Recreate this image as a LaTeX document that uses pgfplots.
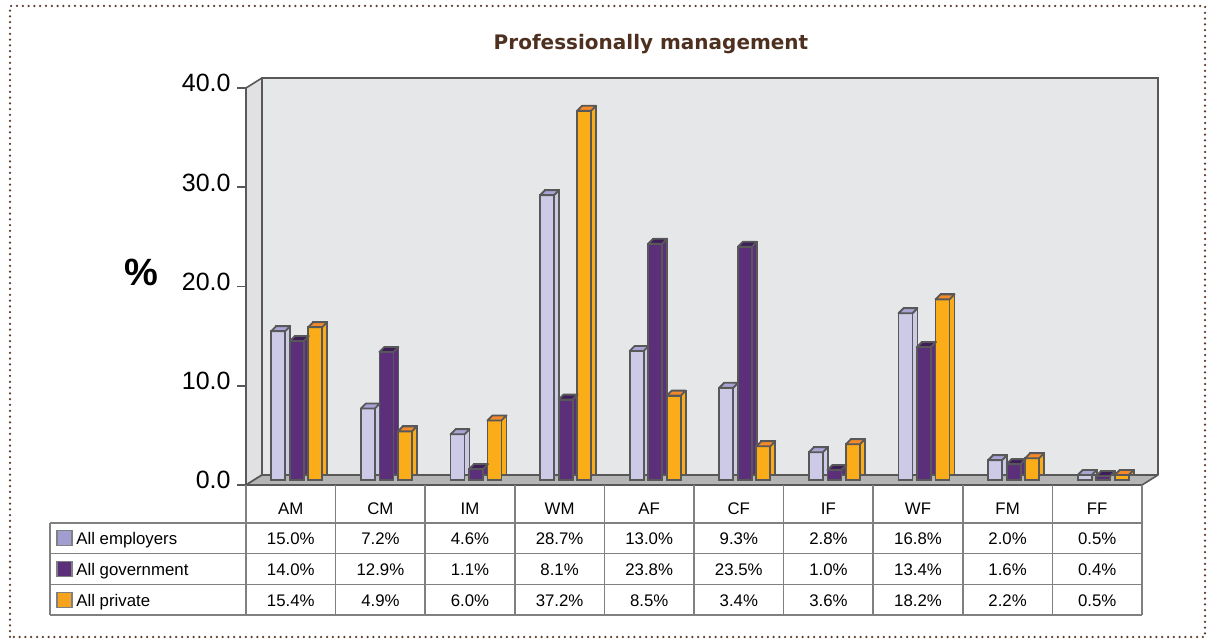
\documentclass[border=0pt]{standalone}
\usepackage{fontspec}
\setmainfont{Liberation Sans}
\newfontfamily\titlefont{DejaVu Sans}
\usepackage{pgfplots}
\usepackage{pgfplotstable}
\pgfplotsset{compat=1.18}

\definecolor{empF}{HTML}{CDCAE7}
\definecolor{empT}{HTML}{A8A4D6}
\definecolor{empL}{HTML}{A19DD1}
\definecolor{govF}{HTML}{5B2F7A}
\definecolor{govT}{HTML}{3E1D5B}
\definecolor{priF}{HTML}{FBAC19}
\definecolor{priT}{HTML}{F4892A}
\definecolor{priL}{HTML}{F7A31D}
\definecolor{edge}{HTML}{585858}
\definecolor{wallc}{HTML}{E6E7E8}
\definecolor{lwallc}{HTML}{E1E1E3}
\definecolor{floorc}{HTML}{B5B5B5}
\definecolor{brownt}{HTML}{4E3020}
\definecolor{dotc}{HTML}{5A3A28}
\definecolor{tabline}{HTML}{808080}

\pgfdeclareplotmark{topface}{%
  \pgfpathmoveto{\pgfpoint{-3.5pt}{0pt}}%
  \pgfpathlineto{\pgfpoint{3.5pt}{0pt}}%
  \pgfpathlineto{\pgfpoint{6pt}{2.5pt}}%
  \pgfpathlineto{\pgfpoint{-1pt}{2.5pt}}%
  \pgfpathclose
  \pgfusepathqfillstroke}

\pgfplotstableread{
x   emp  gov  pri
0.5 15.0 14.0 15.4
1.5 7.2  12.9 4.9
2.5 4.6  1.1  6.0
3.5 28.7 8.1  37.2
4.5 13.0 23.8 8.5
5.5 9.3  23.5 3.4
6.5 2.8  1.0  3.6
7.5 16.8 13.4 18.2
8.5 2.0  1.6  2.2
9.5 0.5  0.4  0.5
}\data

\newcommand\tabfont{\fontsize{8.4}{10}\selectfont}

\begin{document}
\begin{tikzpicture}
\path[use as bounding box] (0,0) rectangle (604pt,320.5pt);
% dotted frame
\draw[dotc, line width=1.25pt, dash pattern=on 0pt off 2.9pt, line cap=round] (5pt,2pt) rectangle (602.5pt,317.5pt);
% title
\node[font=\titlefont\bfseries\fontsize{10}{12}\selectfont, text=brownt] at (325.5pt,298.5pt) {Professionally management};
% percent label
\node[font=\bfseries\fontsize{19}{22}\selectfont] at (70.5pt,184.5pt) {\%};
% walls and floor
\fill[wallc] (131pt,83pt) rectangle (579pt,281.5pt);
\filldraw[fill=lwallc, draw=edge, line width=0.8pt, line join=round] (123pt,78pt) -- (131pt,83pt) -- (131pt,281.5pt) -- (123pt,276.5pt) -- cycle;
\draw[edge, line width=1pt] (131pt,83pt) -- (131pt,281.5pt) -- (579pt,281.5pt) -- (579pt,83pt);
\filldraw[fill=floorc, draw=edge, line width=0.8pt, line join=round] (123pt,78pt) -- (571pt,78pt) -- (579pt,83pt) -- (131pt,83pt) -- cycle;

\begin{axis}[
  at={(123pt,78pt)}, anchor=south west,
  scale only axis, width=448pt, height=198.5pt,
  xmin=0, xmax=10, ymin=0, ymax=40,
  clip=false,
  axis line style={draw=none},
  xtick={0.5,1.5,...,9.5},
  xticklabels={AM,CM,IM,WM,AF,CF,IF,WF,FM,FF},
  x tick style={draw=none},
  xticklabel style={font=\tabfont, anchor=base, yshift=-10.5pt, inner sep=0pt},
  ytick={0,10,20,30,40},
  ytick pos=left,
  tick align=outside,
  major tick length=4.5pt,
  y tick style={draw=edge, line width=0.8pt},
  yticklabel style={font=\fontsize{12.5}{14}\selectfont, anchor=base east, yshift=-2pt, xshift=-3pt, inner sep=0pt,
    /pgf/number format/.cd, fixed, fixed zerofill, precision=1, assume math mode=true},
  xtick pos=bottom,
]
% employers
\addplot[ybar, bar width=7pt, bar shift=-9.25pt, xshift=5.5pt, yshift=5pt, fill=empF, draw=edge, line width=0.9pt] table[x=x,y=emp]{\data};
\addplot[ybar, bar width=7pt, bar shift=-9.25pt, xshift=3pt, yshift=2.5pt, fill=empF, draw=edge, line width=0.9pt] table[x=x,y=emp]{\data};
\addplot[only marks, mark=topface, xshift=-6.25pt, yshift=2.5pt, mark options={fill=empT, draw=edge, line width=0.9pt, line join=round}] table[x=x,y=emp]{\data};
% government
\addplot[ybar, bar width=7pt, bar shift=0pt, xshift=5.5pt, yshift=5pt, fill=govF, draw=edge, line width=0.9pt] table[x=x,y=gov]{\data};
\addplot[ybar, bar width=7pt, bar shift=0pt, xshift=3pt, yshift=2.5pt, fill=govF, draw=edge, line width=0.9pt] table[x=x,y=gov]{\data};
\addplot[only marks, mark=topface, xshift=3pt, yshift=2.5pt, mark options={fill=govT, draw=edge, line width=0.9pt, line join=round}] table[x=x,y=gov]{\data};
% private
\addplot[ybar, bar width=7pt, bar shift=9.25pt, xshift=5.5pt, yshift=5pt, fill=priF, draw=edge, line width=0.9pt] table[x=x,y=pri]{\data};
\addplot[ybar, bar width=7pt, bar shift=9.25pt, xshift=3pt, yshift=2.5pt, fill=priF, draw=edge, line width=0.9pt] table[x=x,y=pri]{\data};
\addplot[only marks, mark=topface, xshift=12.25pt, yshift=2.5pt, mark options={fill=priT, draw=edge, line width=0.9pt, line join=round}] table[x=x,y=pri]{\data};
\end{axis}

% data table
\begin{scope}[tabline, line width=0.75pt]
\foreach \k in {0,...,10} \draw ({(123+44.8*\k)*1pt},13pt) -- ({(123+44.8*\k)*1pt},78pt);
\draw (25pt,13pt) -- (25pt,59pt);
\foreach \yy in {59,43.75,28.25,13} \draw (25pt,\yy pt) -- (571pt,\yy pt);
\end{scope}
% legend keys
\filldraw[fill=empL, draw=tabline, line width=0.6pt] (28.5pt,47.75pt) rectangle (36pt,55.25pt);
\filldraw[fill=govF, draw=tabline, line width=0.6pt] (28.5pt,32.25pt) rectangle (36pt,39.75pt);
\filldraw[fill=priL, draw=tabline, line width=0.6pt] (28.5pt,16.75pt) rectangle (36pt,24.25pt);
\node[font=\tabfont, anchor=base west, inner sep=0pt] at (38pt,48pt) {All employers};
\node[font=\tabfont, anchor=base west, inner sep=0pt] at (38pt,32.5pt) {All government};
\node[font=\tabfont, anchor=base west, inner sep=0pt] at (38pt,17pt) {All private};
\foreach \v [count=\i from 0] in {15.0,7.2,4.6,28.7,13.0,9.3,2.8,16.8,2.0,0.5}
  \node[font=\tabfont, anchor=base, inner sep=0pt] at ({(123+44.8*(\i+0.5))*1pt},48pt) {\v\%};
\foreach \v [count=\i from 0] in {14.0,12.9,1.1,8.1,23.8,23.5,1.0,13.4,1.6,0.4}
  \node[font=\tabfont, anchor=base, inner sep=0pt] at ({(123+44.8*(\i+0.5))*1pt},32.5pt) {\v\%};
\foreach \v [count=\i from 0] in {15.4,4.9,6.0,37.2,8.5,3.4,3.6,18.2,2.2,0.5}
  \node[font=\tabfont, anchor=base, inner sep=0pt] at ({(123+44.8*(\i+0.5))*1pt},17pt) {\v\%};
\end{tikzpicture}
\end{document}
